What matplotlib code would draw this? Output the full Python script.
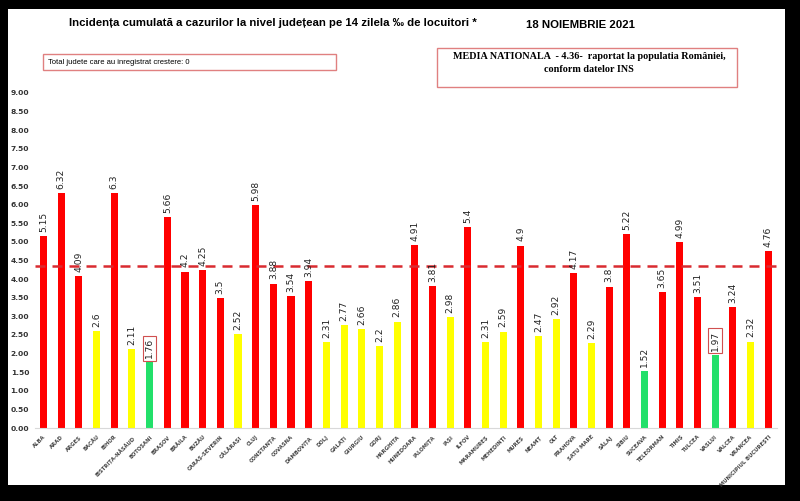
import matplotlib
matplotlib.use("Agg")
import matplotlib.pyplot as plt
from matplotlib.patches import Rectangle

judete = ["ALBA", "ARAD", "ARGEȘ", "BACĂU", "BIHOR", "BISTRIȚA-NĂSĂUD", "BOTOȘANI",
          "BRAȘOV", "BRĂILA", "BUZĂU", "CARAȘ-SEVERIN", "CĂLĂRAȘI", "CLUJ", "CONSTANȚA",
          "COVASNA", "DÂMBOVIȚA", "DOLJ", "GALAȚI", "GIURGIU", "GORJ", "HARGHITA",
          "HUNEDOARA", "IALOMIȚA", "IAȘI", "ILFOV", "MARAMUREȘ", "MEHEDINȚI", "MUREȘ",
          "NEAMȚ", "OLT", "PRAHOVA", "SATU MARE", "SĂLAJ", "SIBIU", "SUCEAVA",
          "TELEORMAN", "TIMIȘ", "TULCEA", "VASLUI", "VÂLCEA", "VRANCEA",
          "MUNICIPIUL BUCUREȘTI"]
incidenta = [5.15, 6.32, 4.09, 2.6, 6.3, 2.11, 1.76, 5.66, 4.2, 4.25, 3.5, 2.52, 5.98,
             3.88, 3.54, 3.94, 2.31, 2.77, 2.66, 2.2, 2.86, 4.91, 3.81, 2.98, 5.4, 2.31,
             2.59, 4.9, 2.47, 2.92, 4.17, 2.29, 3.8, 5.22, 1.52, 3.65, 4.99, 3.51, 1.97,
             3.24, 2.32, 4.76]
culori = ["r", "r", "r", "y", "r", "y", "g", "r", "r", "r", "r", "y", "r", "r", "r", "r",
          "y", "y", "y", "y", "y", "r", "r", "y", "r", "y", "y", "r", "y", "y", "r", "y",
          "r", "r", "g", "r", "r", "r", "g", "r", "y", "r"]
evidentiate = ["BOTOȘANI", "VASLUI"]
media = 4.36
yticks = [i * 0.5 for i in range(19)]

paleta = {"r": "#ff0000", "y": "#ffff00", "g": "#22e06a"}

fig = plt.figure(figsize=(8, 5.01), dpi=100)
fig.patch.set_facecolor("black")
fig.patches.append(Rectangle((8 / 800, 16 / 501), 777 / 800, 476 / 501,
                             transform=fig.transFigure, facecolor="white",
                             edgecolor="none", zorder=-10))

ax = fig.add_axes([0.0434, 0.1457, 0.928, 0.6687])
ax.set_zorder(2)
ax.set_facecolor("none")
x = range(len(judete))
ax.bar(x, incidenta, width=0.4, color=[paleta[c] for c in culori], zorder=2)
ax.axhline(media, color="#d92b30", lw=1.8, dashes=(4, 2.8), zorder=3)

for i, v in enumerate(incidenta):
    box = None
    if judete[i] in evidentiate:
        box = dict(boxstyle="square,pad=0.25", fc="white", ec="#d05050", lw=0.8)
    ax.annotate(f"{v:g}", (i, v), xytext=(0, 3), textcoords="offset points",
                rotation=90, ha="center", va="bottom", fontsize=6.6,
                color="#222222", bbox=box, zorder=4)

ax.set_xlim(-0.5, len(judete) - 0.5)
ax.set_ylim(0, 9)
ax.set_yticks(yticks)
ax.set_yticklabels([f"{t:.2f}" for t in yticks], fontsize=5.4, fontweight="bold",
                   color="#333333")
ax.set_xticks(list(x))
ax.set_xticklabels(judete, rotation=45, ha="right", rotation_mode="anchor",
                   fontsize=3.8, fontweight="bold", color="#444444")
ax.tick_params(axis="x", length=0, pad=4.5)
ax.tick_params(axis="y", length=0, pad=4)
for s in ["top", "right", "left"]:
    ax.spines[s].set_visible(False)
ax.spines["bottom"].set_color("#d9d9d9")

fig.text(69 / 800, 1 - 23 / 501,
         "Incidența cumulată a cazurilor la nivel județean pe 14 zilela ‰ de locuitori *",
         fontsize=8.2, fontweight="bold", family="Liberation Sans", va="center")
fig.text(526 / 800, 1 - 25 / 501, "18 NOIEMBRIE 2021", fontsize=8.2, fontweight="bold",
         family="Liberation Sans", va="center")

fig.patches.append(Rectangle((43 / 800, 1 - 70 / 501), 293 / 800, 16 / 501,
                             transform=fig.transFigure, fc="none", ec="#e08080", lw=1))
fig.text(48 / 800, 1 - 62.5 / 501, "Total judete care au inregistrat crestere: 0",
         fontsize=5.5, family="Liberation Sans", va="center")

fig.patches.append(Rectangle((437 / 800, 1 - 87 / 501), 300 / 800, 39 / 501,
                             transform=fig.transFigure, fc="none", ec="#e08080", lw=1))
fig.text(589 / 800, 1 - 63 / 501,
         "MEDIA NATIONALA  - 4.36-  raportat la populatia României,\nconform datelor INS",
         fontsize=7.3, fontweight="bold", family="Liberation Serif", ha="center", va="center",
         linespacing=1.6)

fig.savefig("out.png", dpi=100, facecolor=fig.get_facecolor())
